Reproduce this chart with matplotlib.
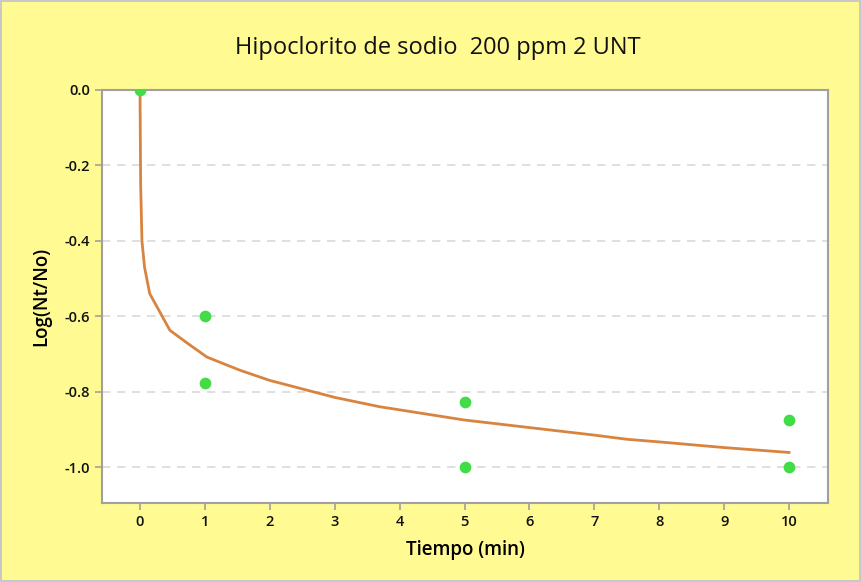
import numpy as np
import matplotlib
matplotlib.use('Agg')
import matplotlib.pyplot as plt

plt.rcParams['font.family'] = ['Open Sans', 'DejaVu Sans']
plt.rcParams['axes.unicode_minus'] = False

# observed data
t_obs = [0, 1, 1, 5, 5, 10, 10]
log_obs = [0.0, -0.60, -0.778, -0.826, -1.0, -0.876, -1.0]

# fitted curve
t_fit = [0, 0.01, 0.03, 0.07, 0.15, 0.31, 0.46, 0.72, 1.03, 1.54, 2, 3, 3.7, 4,
         5, 6, 7, 7.5, 8, 9, 10]
log_fit = [0.0, -0.25, -0.40, -0.47, -0.54, -0.59, -0.637, -0.67, -0.708, -0.743,
           -0.77, -0.815, -0.84, -0.848, -0.875, -0.895, -0.915, -0.926, -0.933,
           -0.948, -0.961]

xticks = list(range(0, 11))
yticks = [0.0, -0.2, -0.4, -0.6, -0.8, -1.0]

bg = '#FFFA92'
fig = plt.figure(figsize=(8.61, 5.82), dpi=100, facecolor=bg,
                 edgecolor='#C8C8C8', linewidth=1.5)
ax = fig.add_axes([0.1185, 0.1357, 0.8432, 0.7097])
ax.set_facecolor('white')

ax.plot(t_fit, log_fit, color='#D8843F', lw=2, zorder=3)
ax.scatter(t_obs, log_obs, s=55, color='#42DC46', zorder=4, clip_on=True)

ax.set_xlim(-0.585, 10.6)
ax.set_ylim(-1.095, 0.0)
ax.set_xticks(xticks)
ax.set_yticks(yticks)
ax.set_yticklabels([f'{v:.1f}' for v in yticks])

for y in yticks[1:]:
    ax.axhline(y, color='#D9D9D9', lw=1.2, ls=(0, (5, 4)), zorder=1)

for s in ax.spines.values():
    s.set_color('#A0A0A0')
    s.set_linewidth(1.5)
ax.tick_params(direction='out', color='#A0A0A0', length=5, width=1.2,
               labelsize=10.5, labelcolor='#111111')
for lbl in ax.get_xticklabels() + ax.get_yticklabels():
    lbl.set_fontweight('semibold')

# title is centred on the figure, not the plot area
fig.text(0.508, 0.917, 'Hipoclorito de sodio  200 ppm 2 UNT', fontsize=17,
         ha='center', va='center', color='#111111')
ax.set_xlabel('Tiempo (min)', fontsize=13.5, fontweight='semibold', labelpad=8)
ax.set_ylabel('Log(Nt/No)', fontsize=13.5, fontweight='semibold', labelpad=10)

fig.savefig('out.png', dpi=100, facecolor=bg, edgecolor='#C8C8C8')
